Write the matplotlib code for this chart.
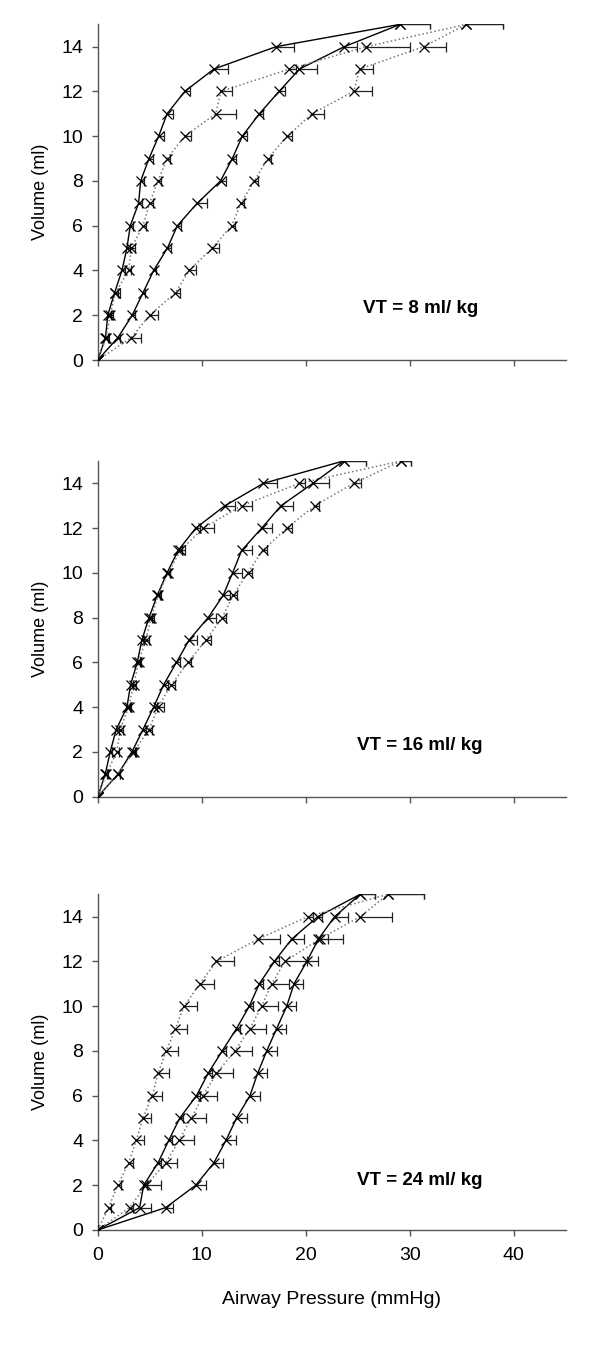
import numpy as np
import matplotlib.pyplot as plt

plt.rcParams["font.family"] = ["Liberation Sans", "DejaVu Sans"]

volume = np.arange(0, 16)

# VT = 8 ml/kg
p8_solid_a = [0, 0.74, 0.96, 1.61, 2.32, 2.80, 3.12, 3.92, 4.12, 4.92, 5.85, 6.66, 8.36, 11.16, 17.14, 29.10]
p8_solid_a_err = [0, 0.2, 0.3, 0.3, 0.25, 0.3, 0.25, 0.3, 0.3, 0.35, 0.48, 0.58, 0.48, 1.32, 1.74, 2.80]
p8_solid_b = [0, 1.93, 3.31, 4.34, 5.37, 6.69, 7.65, 9.55, 11.80, 12.93, 13.89, 15.53, 17.43, 19.39, 23.70, 29.10]
p8_solid_b_err = [0, 0.2, 0.25, 0.2, 0.26, 0.39, 0.39, 0.96, 0.51, 0.35, 0.48, 0.39, 0.55, 1.67, 1.22, 2.80]
p8_dot_a = [0, 0.80, 1.19, 1.70, 2.96, 3.22, 4.34, 4.98, 5.79, 6.66, 8.36, 11.35, 11.83, 18.42, 25.82, 35.43]
p8_dot_a_err = [0, 0.26, 0.26, 0.39, 0.26, 0.32, 0.26, 0.32, 0.32, 0.32, 0.58, 1.90, 1.03, 0.6, 4.24, 3.54]
p8_dot_b = [0, 3.22, 4.98, 7.46, 8.78, 11.00, 12.86, 13.76, 15.05, 16.33, 18.23, 20.58, 24.60, 25.18, 31.35, 35.43]
p8_dot_b_err = [0, 0.96, 0.80, 0.48, 0.64, 0.61, 0.32, 0.29, 0.32, 0.32, 0.48, 1.13, 1.80, 1.29, 2.10, 3.54]

# VT = 16 ml/kg
p16_solid_a = [0, 0.71, 1.19, 1.77, 2.80, 3.15, 3.79, 4.24, 4.92, 5.72, 6.66, 7.72, 9.42, 12.22, 15.92, 23.63]
p16_solid_a_err = [0, 0.2, 0.2, 0.25, 0.25, 0.25, 0.25, 0.25, 0.3, 0.3, 0.3, 0.35, 0.4, 0.96, 1.29, 2.12]
p16_solid_b = [0, 1.93, 3.28, 4.34, 5.37, 6.33, 7.56, 8.78, 10.61, 12.06, 12.96, 13.83, 15.76, 17.62, 20.68, 23.63]
p16_solid_b_err = [0, 0.2, 0.25, 0.25, 0.3, 0.42, 0.39, 0.77, 0.80, 0.64, 0.87, 0.96, 0.96, 1.13, 1.54, 2.12]
p16_dot_a = [0, 0.80, 1.83, 2.15, 2.96, 3.44, 3.92, 4.60, 5.14, 5.79, 6.75, 7.94, 10.13, 13.83, 19.39, 29.16]
p16_dot_a_err = [0, 0.2, 0.25, 0.26, 0.26, 0.26, 0.26, 0.29, 0.23, 0.25, 0.23, 0.42, 1.03, 0.96, 0.5, 0.96]
p16_dot_b = [0, 1.93, 3.44, 4.92, 5.79, 7.07, 8.68, 10.39, 11.96, 13.02, 14.41, 15.85, 18.17, 20.84, 24.60, 29.16]
p16_dot_b_err = [0, 0.2, 0.25, 0.26, 0.55, 0.32, 0.32, 0.45, 0.32, 0.32, 0.39, 0.39, 0.55, 0.39, 0.74, 0.96]

# VT = 24 ml/kg
p24_solid_a = [0, 4.02, 4.41, 5.79, 6.82, 7.88, 9.49, 10.61, 11.96, 13.34, 14.57, 15.53, 16.98, 18.65, 21.16, 25.24]
p24_solid_a_err = [0, 1.13, 0.3, 0.3, 0.3, 0.3, 0.3, 0.35, 0.35, 0.35, 0.4, 0.4, 0.4, 1.13, 0.4, 1.45]
p24_solid_b = [0, 6.53, 9.42, 11.16, 12.32, 13.34, 14.63, 15.37, 16.24, 17.20, 18.17, 18.87, 20.10, 21.22, 22.77, 25.24]
p24_solid_b_err = [0, 0.71, 1.03, 0.90, 0.96, 1.03, 0.96, 0.93, 0.96, 0.90, 0.90, 0.90, 1.03, 0.96, 1.25, 1.45]
p24_dot_a = [0, 1.03, 1.93, 2.96, 3.70, 4.34, 5.24, 5.79, 6.59, 7.46, 8.30, 9.81, 11.41, 15.43, 20.19, 27.91]
p24_dot_a_err = [0, 0.26, 0.32, 0.42, 0.71, 0.80, 0.96, 1.03, 1.13, 1.13, 1.25, 1.35, 1.67, 2.09, 0.5, 3.50]
p24_dot_b = [0, 3.05, 4.66, 6.53, 7.81, 9.00, 10.13, 11.41, 13.18, 14.63, 15.76, 16.72, 18.00, 21.32, 25.24, 27.91]
p24_dot_b_err = [0, 0.3, 1.38, 1.09, 1.45, 1.45, 1.35, 1.61, 1.61, 1.54, 1.61, 1.67, 2.09, 2.30, 3.05, 3.50]

panels = [
    ("VT = 8 ml/ kg", [(p8_solid_a, p8_solid_a_err, "-"), (p8_solid_b, p8_solid_b_err, "-"),
                       (p8_dot_a, p8_dot_a_err, ":"), (p8_dot_b, p8_dot_b_err, ":")]),
    ("VT = 16 ml/ kg", [(p16_solid_a, p16_solid_a_err, "-"), (p16_solid_b, p16_solid_b_err, "-"),
                        (p16_dot_a, p16_dot_a_err, ":"), (p16_dot_b, p16_dot_b_err, ":")]),
    ("VT = 24 ml/ kg", [(p24_solid_a, p24_solid_a_err, "-"), (p24_solid_b, p24_solid_b_err, "-"),
                        (p24_dot_a, p24_dot_a_err, ":"), (p24_dot_b, p24_dot_b_err, ":")]),
]

fig = plt.figure(figsize=(6, 13.57), dpi=100)
bottoms = [0.7347, 0.4129, 0.0936]
spine_col = "#555555"

for i, (title, series) in enumerate(panels):
    ax = fig.add_axes([0.163, bottoms[i], 0.78, 0.2474])
    for x, err, ls in series:
        lc = "black" if ls == "-" else "#777777"
        ax.plot(x, volume, ls=ls, color=lc, lw=1.0 if ls == "-" else 1.1, zorder=2)
        # one-sided (positive) error bars, drop the cap at the data point
        eb = ax.errorbar(x, volume, xerr=[np.zeros(len(err)), err], fmt="none",
                         ecolor="#222222", elinewidth=0.9, capsize=3.5, capthick=0.9, zorder=3)
        eb[1][0].set_visible(False)
        ax.plot(x, volume, ls="none", marker="x", ms=6.5, mew=0.9, color="black", zorder=4)

    ax.set_xlim(0, 45)
    ax.set_ylim(0, 15)
    ax.set_xticks([0, 10, 20, 30, 40])
    ax.set_yticks(range(0, 16, 2))
    for s in ["top", "right"]:
        ax.spines[s].set_visible(False)
    for s in ["left", "bottom"]:
        ax.spines[s].set_color(spine_col)
        ax.spines[s].set_linewidth(1.0)
    ax.tick_params(direction="out", length=4, width=1, color=spine_col, labelsize=14)
    ax.tick_params(axis="y", pad=6.5)
    ax.tick_params(axis="x", pad=8)
    ax.set_ylabel("Volume (ml)", fontsize=13, labelpad=9)
    if i < 2:
        ax.set_xticklabels([])
    else:
        ax.set_xlabel("Airway Pressure (mmHg)", fontsize=14, labelpad=20)
    ax.text(31, 2.3 if i < 2 else 2.2, title, ha="center", va="center",
            fontsize=13.5, fontweight="bold")

fig.patch.set_facecolor("white")
fig.savefig("out.png", dpi=100)
